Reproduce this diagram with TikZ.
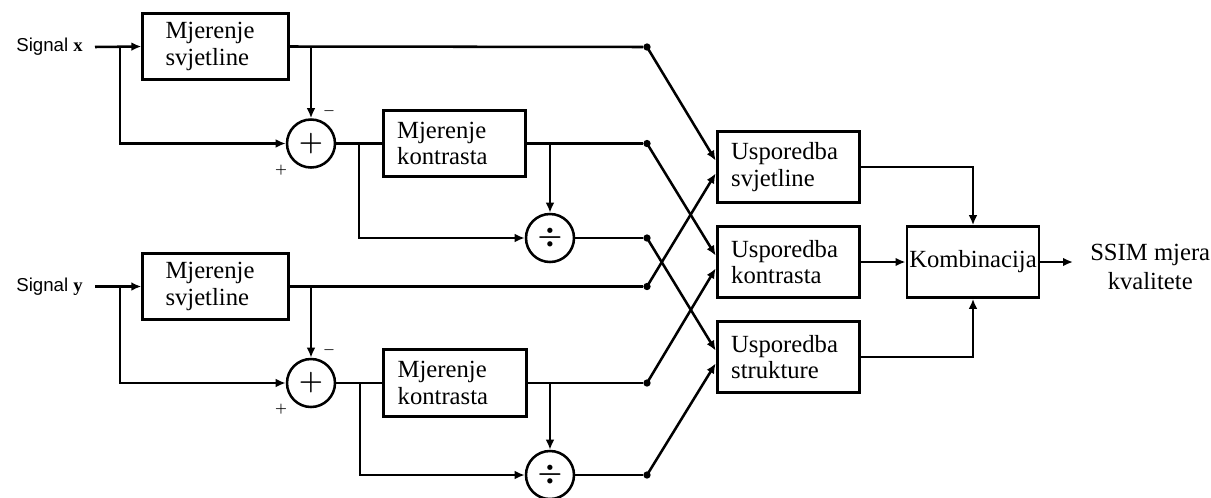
\documentclass[tikz,border=0pt]{standalone}
\usepackage{amsmath}
\usepackage{fontspec}
\setmainfont{Liberation Serif}
\setsansfont{Liberation Sans}
\usetikzlibrary{arrows.meta}

\tikzset{
  blok/.style={draw, line width=2.2pt, inner ysep=0pt, minimum height=50pt,
    font=\fontsize{18.5}{20}\selectfont},
  blokm/.style={blok, align=left, inner xsep=17pt, text width=75pt},
  blokk/.style={blok, align=left, inner xsep=10.5pt, text width=86pt},
  bloku/.style={blok, align=left, inner xsep=10.5pt, text width=86pt, minimum height=53pt},
  blokc/.style={blok, align=center, inner xsep=0pt, text width=99pt, minimum height=53pt},
  krug/.style={draw, circle, line width=1.9pt, minimum size=36pt, inner sep=0pt,
    font=\fontsize{21}{21}\selectfont\boldmath},
  tocka/.style={circle, fill, inner sep=0pt, minimum size=5.5pt},
  znak/.style={inner sep=0.75pt, font=\fontsize{10}{10}\selectfont\boldmath},
  signal/.style={inner xsep=9pt, inner ysep=0pt, font=\sffamily\fontsize{14}{14}\selectfont},
  izlaz/.style={align=center, inner xsep=12.75pt, inner ysep=0pt, font=\fontsize{18.5}{22}\selectfont},
  veza/.style={line width=1.9pt},
  strel/.style={line width=1.9pt, -{Latex[length=7.5pt,width=6.5pt]}},
}

\begin{document}
\begin{tikzpicture}[x=0.75pt,y=0.75pt,yscale=-1,xscale=1]
\path[use as bounding box] (0,0) rectangle (1211,497);

% Text Node
\node[signal, anchor=east] (sigx) at (95,47) {Signal {\rmfamily\bfseries x}};
\node[signal, anchor=east] (sigy) at (95,286.5) {Signal {\rmfamily\bfseries y}};

% Blocks -- signal x
\node[blokm] (msx) at (215.5,46.5) {Mjerenje\\svjetline};
\node[krug] (sumx) at (311,143.5) {$+$};
\node[blokk] (mkx) at (454.5,143.5) {Mjerenje\\kontrasta};
\node[krug] (divx) at (550,238) {$\div$};
% Blocks -- signal y
\node[blokm] (msy) at (215.5,286.5) {Mjerenje\\svjetline};
\node[krug] (sumy) at (311,383) {$+$};
\node[blokk] (mky) at (455,383) {Mjerenje\\kontrasta};
\node[krug] (divy) at (550,475) {$\div$};

% signs at the adders
\node[znak] (minx) at (329,111) {$-$};
\node[znak] (plx) at (281,170) {$+$};
\node[znak] (miny) at (329,350) {$-$};
\node[znak] (ply) at (281,409) {$+$};

% Dots
\node[tocka] (tsx) at (647,47) {};
\node[tocka] (tkx) at (647,143.5) {};
\node[tocka] (tdx) at (647,238) {};
\node[tocka] (tsy) at (647,286.5) {};
\node[tocka] (tky) at (647,383) {};
\node[tocka] (tdy) at (647,475) {};

% Comparison and combination
\node[bloku] (usv) at (788.5,167) {Usporedba\\svjetline};
\node[bloku] (uko) at (788.5,262) {Usporedba\\kontrasta};
\node[bloku] (ust) at (788.5,357) {Usporedba\\strukture};
\node[blokc] (komb) at (973,262) {Kombinacija};
\node[izlaz, anchor=west] (ssim) at (1073,267) {SSIM mjera\\kvalitete};

% branch points
\coordinate (gx) at (120,47);
\coordinate (gmx) at (311,47);
\coordinate (gsx) at (359,143.5);
\coordinate (gkx) at (550,143.5);
\coordinate (gy) at (120,286.5);
\coordinate (gmy) at (311,286.5);
\coordinate (gsy) at (360,383);
\coordinate (gky) at (550,383);

%Straight Lines -- signal x
\draw[strel] (sigx.east) -- (msx.west);
\draw[strel] (gx) |- (sumx.west);
\draw[veza] (msx.east) -- (tsx);
\draw[strel] (gmx) -- (sumx.north);
\draw[veza] (sumx.east) -- (mkx.west);
\draw[strel] (gsx) |- (divx.west);
\draw[veza] (mkx.east) -- (tkx);
\draw[strel] (gkx) -- (divx.north);
\draw[veza] (divx.east) -- (tdx);

%Straight Lines -- signal y
\draw[strel] (sigy.east) -- (msy.west);
\draw[strel] (gy) |- (sumy.west);
\draw[veza] (msy.east) -- (tsy);
\draw[strel] (gmy) -- (sumy.north);
\draw[veza] (sumy.east) -- (mky.west);
\draw[strel] (gsy) |- (divy.west);
\draw[veza] (mky.east) -- (tky);
\draw[strel] (gky) -- (divy.north);
\draw[veza] (divy.east) -- (tdy);

%Crossing lines
\draw[strel] (tsx.center) -- (usv.175);
\draw[strel] (tsy.center) -- (usv.185);
\draw[strel] (tkx.center) -- (uko.175);
\draw[strel] (tky.center) -- (uko.185);
\draw[strel] (tdx.center) -- (ust.175);
\draw[strel] (tdy.center) -- (ust.185);

%Into combination
\draw[strel] (usv.east) -| (komb.north);
\draw[strel] (uko.east) -- (komb.west);
\draw[strel] (ust.east) -| (komb.south);
\draw[strel] (komb.east) -- (ssim.west |- komb.east);

\end{tikzpicture}
\end{document}
